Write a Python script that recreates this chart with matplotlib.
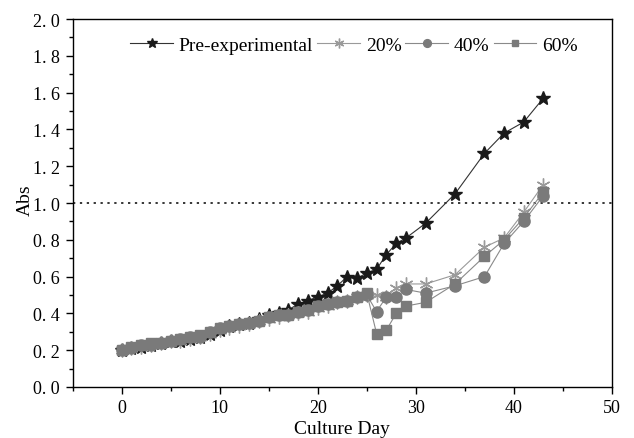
import matplotlib
matplotlib.use("Agg")
import matplotlib.pyplot as plt
from matplotlib.ticker import MultipleLocator, FuncFormatter

days = list(range(0, 30)) + [31, 34, 37, 39, 41, 43]

pre = [0.20, 0.21, 0.22, 0.23, 0.24, 0.25, 0.25, 0.26, 0.27, 0.29, 0.31,
       0.33, 0.34, 0.35, 0.37, 0.39, 0.40, 0.42, 0.45, 0.47, 0.49,
       0.51, 0.55, 0.60, 0.59, 0.62, 0.64, 0.72, 0.78, 0.81,
       0.89, 1.05, 1.27, 1.38, 1.44, 1.57]

p20 = [0.20, 0.21, 0.22, 0.23, 0.24, 0.25, 0.25, 0.26, 0.27, 0.29, 0.31,
       0.32, 0.33, 0.34, 0.36, 0.37, 0.38, 0.39, 0.40, 0.41, 0.43,
       0.44, 0.46, 0.47, 0.49, 0.50, 0.50, 0.49, 0.54, 0.56,
       0.56, 0.61, 0.76, 0.81, 0.95, 1.10]

p40 = [0.20, 0.21, 0.23, 0.23, 0.24, 0.25, 0.26, 0.27, 0.27, 0.30, 0.32,
       0.33, 0.34, 0.35, 0.36, 0.38, 0.39, 0.39, 0.41, 0.42, 0.44,
       0.45, 0.46, 0.47, 0.49, 0.50, 0.41, 0.49, 0.49, 0.53,
       0.51, 0.55, 0.60, 0.78, 0.90, 1.04]

p60 = [0.20, 0.22, 0.23, 0.24, 0.24, 0.25, 0.26, 0.27, 0.28, 0.30, 0.32,
       0.33, 0.34, 0.35, 0.36, 0.38, 0.39, 0.39, 0.41, 0.42, 0.44,
       0.45, 0.46, 0.47, 0.49, 0.51, 0.29, 0.31, 0.40, 0.44,
       0.46, 0.56, 0.71, 0.80, 0.92, 1.06]

labels = ["Pre-experimental", "20%", "40%", "60%"]
threshold = 1.0

plt.rcParams['font.family'] = ['Liberation Serif', 'DejaVu Serif']

fig = plt.figure(figsize=(6.34, 4.39), dpi=100)
ax = fig.add_axes([0.1144, 0.1162, 0.8509, 0.8382])

ax.axhline(threshold, color='black', linestyle=(0, (1.5, 3)), linewidth=1.1, zorder=1)

h0, = ax.plot(days, pre, color='#333333', linewidth=0.8, marker='*', markersize=10,
              markerfacecolor='#1a1a1a', markeredgecolor='#1a1a1a', label=labels[0], zorder=2)
h1, = ax.plot(days, p20, color='#9a9a9a', linewidth=0.8, marker=(6, 2, 0), markersize=10,
              markeredgewidth=1.0, markeredgecolor='#9a9a9a', label=labels[1], zorder=3)
h2, = ax.plot(days, p40, color='#8a8a8a', linewidth=0.8, marker='o', markersize=8,
              markerfacecolor='#7a7a7a', markeredgecolor='#7a7a7a', label=labels[2], zorder=3)
h3, = ax.plot(days, p60, color='#8a8a8a', linewidth=0.8, marker='s', markersize=7,
              markerfacecolor='#7a7a7a', markeredgecolor='#7a7a7a', label=labels[3], zorder=3)

ax.set_xlim(-5, 50)
ax.set_ylim(0, 2.0)
ax.xaxis.set_major_locator(MultipleLocator(10))
ax.xaxis.set_minor_locator(MultipleLocator(5))
ax.yaxis.set_major_locator(MultipleLocator(0.2))
ax.yaxis.set_minor_locator(MultipleLocator(0.1))
ax.yaxis.set_major_formatter(FuncFormatter(lambda v, p: ("%.1f" % v).replace('.', '. ')))
ax.tick_params(which='both', direction='out', top=False, right=False,
               labelsize=13, colors='black', width=1.0)
ax.tick_params(which='major', length=5, pad=4)
ax.tick_params(which='minor', length=3)
for s in ax.spines.values():
    s.set_linewidth(1.0)

ax.set_xlabel("Culture Day", fontsize=14)
ax.set_ylabel("Abs", fontsize=14)
ax.xaxis.set_label_coords(0.5, -0.114, transform=ax.transAxes)
ax.xaxis.label.set_va('center')
ax.yaxis.set_label_coords(-0.088, 0.51, transform=ax.transAxes)
ax.yaxis.label.set_va('center')

leg = ax.legend([h0, h1, h2, h3], labels,
                loc='center left', bbox_to_anchor=(0.107, 0.929), ncol=4,
                frameon=False, fontsize=14, handlelength=2.2, handletextpad=0.3,
                columnspacing=0.2, markerscale=0.7, borderpad=0, borderaxespad=0)

fig.savefig("out.png", dpi=100)
